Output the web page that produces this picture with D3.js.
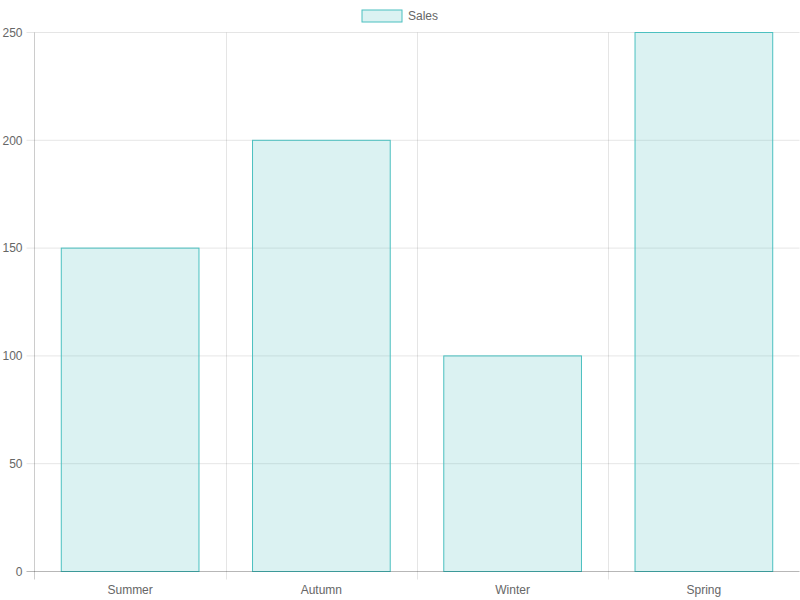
<!DOCTYPE html>
<html><head><meta charset="utf-8">
<script src="https://cdn.jsdelivr.net/npm/d3@7"></script>
<style>body{margin:0;background:#fff}svg{display:block}</style>
</head><body>
<script>
const categories = ["Summer", "Autumn", "Winter", "Spring"];
const salesValues = [150, 200, 100, 250];
const yTicks = [0, 50, 100, 150, 200, 250];
const seriesName = "Sales";

const W = 800, H = 600;
const m = {left: 34.5, right: 799.5, top: 32.5, bottom: 571.5};
const font = "'Liberation Sans', Arial, Helvetica, sans-serif";
const grid = "rgba(0,0,0,0.1)";
const txt = "#666";

const svg = d3.select("body").append("svg").attr("width", W).attr("height", H);

const x = d3.scaleBand().domain(categories).range([m.left, m.right]);
const y = d3.scaleLinear().domain([0, 250]).range([m.bottom, m.top]);

// horizontal grid lines + y tick marks + labels
const gy = svg.append("g");
yTicks.forEach(t => {
  gy.append("line").attr("x1", m.left - 8).attr("x2", m.right)
    .attr("y1", y(t)).attr("y2", y(t)).attr("stroke", grid).attr("stroke-width", 1);
  gy.append("text").attr("x", m.left - 12).attr("y", y(t)).attr("dy", "0.35em")
    .attr("text-anchor", "end").attr("font-family", font).attr("font-size", 12)
    .attr("fill", txt).text(t);
});

// vertical grid lines (category boundaries)
categories.forEach((c, i) => {
  if (i === 0) return;
  const bx = Math.round(x(c)) + 0.5;
  svg.append("line").attr("x1", bx).attr("x2", bx)
    .attr("y1", m.top).attr("y2", m.bottom + 8).attr("stroke", grid);
});

// bars
const bw = x.bandwidth() * 0.72;
svg.append("g").selectAll("rect").data(salesValues).join("rect")
  .attr("x", (d, i) => x(categories[i]) + (x.bandwidth() - bw) / 2)
  .attr("y", d => y(d))
  .attr("width", bw)
  .attr("height", d => y(0) - y(d))
  .attr("fill", "rgba(75,192,192,0.2)")
  .attr("stroke", "rgb(75,192,192)")
  .attr("stroke-width", 1);

// axis lines
svg.append("line").attr("x1", m.left).attr("x2", m.left).attr("y1", m.top).attr("y2", m.bottom + 8)
  .attr("stroke", "rgba(0,0,0,0.2)");
svg.append("line").attr("x1", m.left - 8).attr("x2", m.right).attr("y1", m.bottom).attr("y2", m.bottom)
  .attr("stroke", "rgba(0,0,0,0.2)");

// x labels
svg.append("g").selectAll("text").data(categories).join("text")
  .attr("x", d => x(d) + x.bandwidth() / 2).attr("y", 590).attr("dy", "0.35em")
  .attr("text-anchor", "middle").attr("font-family", font).attr("font-size", 12)
  .attr("fill", txt).text(d => d);

// legend
const lg = svg.append("g");
lg.append("rect").attr("x", 362).attr("y", 10).attr("width", 40).attr("height", 12)
  .attr("fill", "rgba(75,192,192,0.2)").attr("stroke", "rgb(75,192,192)").attr("stroke-width", 1);
lg.append("text").attr("x", 408).attr("y", 16).attr("dy", "0.35em")
  .attr("font-family", font).attr("font-size", 12).attr("fill", txt).text(seriesName);
</script>
</body></html>
